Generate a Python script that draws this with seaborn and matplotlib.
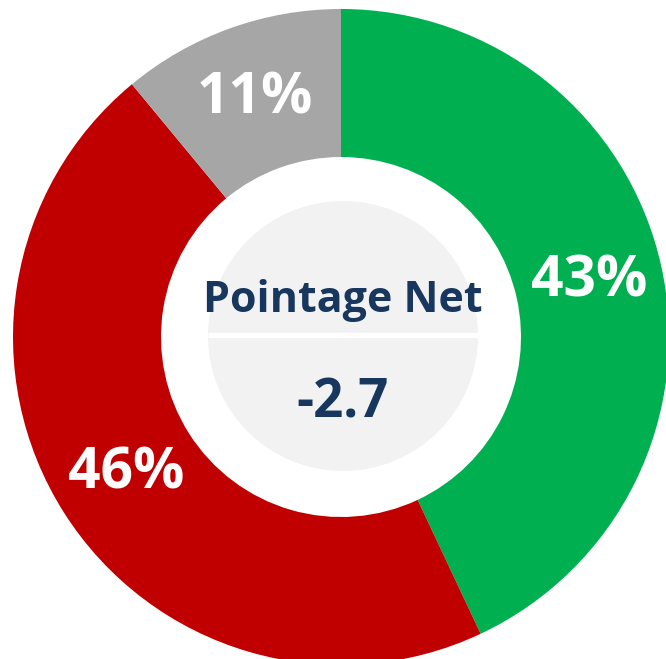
import matplotlib
matplotlib.use("Agg")
import matplotlib.pyplot as plt
import seaborn as sns
from matplotlib.patches import Circle

# Data
categories = ["Favorable", "Défavorable", "Sans opinion"]
values = [43, 46, 11]
labels = ["43%", "46%", "11%"]
center_title = "Pointage Net"
center_value = "-2.7"

colors = ["#00B050", "#C00000", "#A6A6A6"]
navy = "#17375E"

sns.set_theme(style="white")
plt.rcParams['font.family'] = ['Open Sans', 'DejaVu Sans']

W, H = 666, 659
fig = plt.figure(figsize=(W / 100, H / 100), dpi=100)
ax = fig.add_axes([0, 0, 1, 1])
ax.set_xlim(0, W)
ax.set_ylim(0, H)
ax.set_aspect('equal')
ax.axis('off')

cx, cy = 341, H - 337
R_out, R_in = 328, 180

wedges, _ = ax.pie(values, colors=colors, startangle=90, counterclock=False,
                   radius=R_out, center=(cx, cy),
                   wedgeprops=dict(width=R_out - R_in, linewidth=0))
ax.set_xlim(0, W)
ax.set_ylim(0, H)
ax.set_aspect('equal')

# label placement at the ring middle
import numpy as np
r_lab = (R_out + R_in) / 2
start = 90.0
total = sum(values)
for v, lab in zip(values, labels):
    mid = start - v / total * 360 / 2
    x = cx + r_lab * np.cos(np.radians(mid))
    y = cy + r_lab * np.sin(np.radians(mid))
    ax.text(x, y, lab, ha='center', va='center', color='white',
            fontsize=41, fontweight='bold')
    start -= v / total * 360

# Inner light circle
r_c = 135
ax.add_patch(Circle((cx + 2, cy + 1), r_c, facecolor="#F2F2F2", edgecolor='none', zorder=3))
ax.plot([cx + 2 - r_c, cx + 2 + r_c], [cy + 2, cy + 2], color='white', lw=3.8,
        solid_capstyle='butt', zorder=4)

ax.text(cx + 2, H - 312, center_title, ha='center', va='baseline', color=navy,
        fontsize=31, fontweight='bold', zorder=5)
ax.text(cx + 1, H - 417, center_value, ha='center', va='baseline', color=navy,
        fontsize=38, fontweight='bold', zorder=5)

fig.savefig("out.png", dpi=100, facecolor='white')
